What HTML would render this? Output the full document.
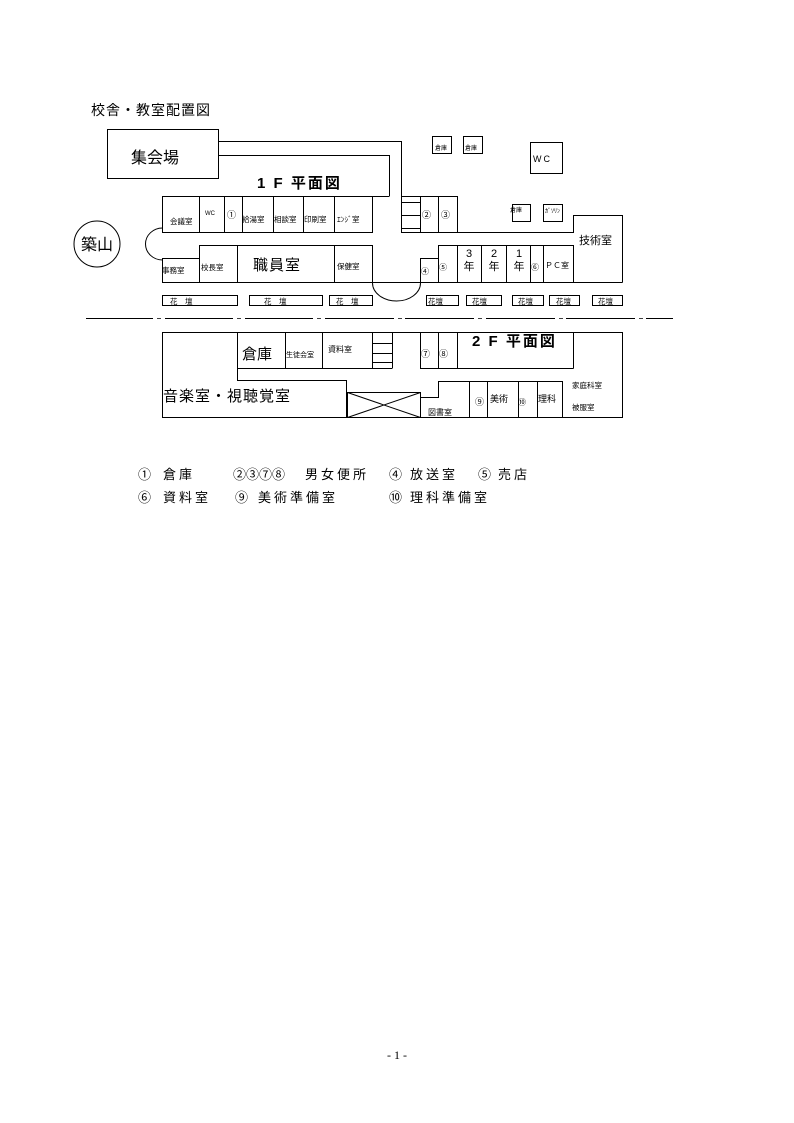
<!DOCTYPE html>
<html><head><meta charset="utf-8"><style>
html,body{margin:0;padding:0;background:#fff;}
svg{display:block;}
text{font-family:"Liberation Sans","Noto Sans CJK JP",sans-serif;fill:#000;}
</style></head><body>
<svg width="794" height="1123" viewBox="0 0 794 1123" xmlns="http://www.w3.org/2000/svg">
<g stroke="#000" stroke-width="1" fill="none">
<rect x="107.5" y="129.5" width="111" height="49"/>
<polyline points="218,141.5 401.5,141.5 401.5,233"/>
<polyline points="218,155.5 389.5,155.5 389.5,196"/>
<line x1="162" y1="196.5" x2="389.5" y2="196.5"/>
<line x1="162.5" y1="196" x2="162.5" y2="233"/>
<line x1="162" y1="232.5" x2="372.5" y2="232.5"/>
<line x1="199.5" y1="196" x2="199.5" y2="233"/>
<line x1="224.5" y1="196" x2="224.5" y2="233"/>
<line x1="242.5" y1="196" x2="242.5" y2="233"/>
<line x1="273.5" y1="196" x2="273.5" y2="233"/>
<line x1="303.5" y1="196" x2="303.5" y2="233"/>
<line x1="334.5" y1="196" x2="334.5" y2="233"/>
<line x1="372.5" y1="196" x2="372.5" y2="233"/>
<polyline points="401.5,196.5 457.5,196.5 457.5,233"/>
<line x1="420.5" y1="196" x2="420.5" y2="233"/>
<line x1="438.5" y1="196" x2="438.5" y2="233"/>
<line x1="401" y1="202.5" x2="420" y2="202.5"/>
<line x1="401" y1="215.5" x2="420" y2="215.5"/>
<line x1="401" y1="228.5" x2="420" y2="228.5"/>
<line x1="401" y1="232.5" x2="573.5" y2="232.5"/>
<polyline points="573.5,233 573.5,215.5 622.5,215.5 622.5,282.5"/>
<path d="M162.5,228 A17,16 0 0 0 162.5,260"/>
<line x1="199" y1="245.5" x2="372.5" y2="245.5"/>
<line x1="199.5" y1="245" x2="199.5" y2="282"/>
<line x1="237.5" y1="245" x2="237.5" y2="282"/>
<line x1="334.5" y1="245" x2="334.5" y2="282"/>
<line x1="372.5" y1="245" x2="372.5" y2="282"/>
<polyline points="162,258.5 199,258.5"/>
<line x1="162.5" y1="258" x2="162.5" y2="282"/>
<line x1="162" y1="282.5" x2="622.5" y2="282.5"/>
<path d="M372.5,283 A24,18 0 0 0 420.5,283"/>
<polyline points="420.5,283 420.5,258.5 438.5,258.5"/>
<line x1="438.5" y1="245.5" x2="573.5" y2="245.5"/>
<line x1="438.5" y1="245" x2="438.5" y2="283"/>
<line x1="457.5" y1="245" x2="457.5" y2="283"/>
<line x1="481.5" y1="245" x2="481.5" y2="283"/>
<line x1="506.5" y1="245" x2="506.5" y2="283"/>
<line x1="530.5" y1="245" x2="530.5" y2="283"/>
<line x1="543.5" y1="245" x2="543.5" y2="283"/>
<line x1="573.5" y1="245" x2="573.5" y2="283"/>
<rect x="432.5" y="136.5" width="19" height="17"/>
<rect x="463.5" y="136.5" width="19" height="17"/>
<rect x="530.5" y="142.5" width="32" height="31"/>
<rect x="512.5" y="204.5" width="18" height="17"/>
<rect x="543.5" y="204.5" width="19" height="17"/>
<circle cx="97" cy="244" r="23"/>
<rect x="162.5" y="295.5" width="75" height="10"/>
<rect x="249.5" y="295.5" width="73" height="10"/>
<rect x="329.5" y="295.5" width="43" height="10"/>
<rect x="426.5" y="295.5" width="32" height="10"/>
<rect x="466.5" y="295.5" width="35" height="10"/>
<rect x="512.5" y="295.5" width="31" height="10"/>
<rect x="549.5" y="295.5" width="30" height="10"/>
<rect x="592.5" y="295.5" width="30" height="10"/>
<path d="M86,318.5H153M165,318.5H233M245,318.5H313M325,318.5H394M405,318.5H474M486,318.5H555M566,318.5H635M646,318.5H673"/>
<path d="M157,318.5H161M237,318.5H241M317,318.5H321M398,318.5H402M478,318.5H482M559,318.5H563M639,318.5H643" stroke-width="0.8"/>
<rect x="162.5" y="332.5" width="460" height="85"/>
<line x1="237.5" y1="332" x2="237.5" y2="380"/>
<line x1="285.5" y1="332" x2="285.5" y2="368"/>
<line x1="322.5" y1="332" x2="322.5" y2="368"/>
<line x1="372.5" y1="332" x2="372.5" y2="368"/>
<line x1="392.5" y1="332" x2="392.5" y2="368"/>
<line x1="372" y1="343.5" x2="392" y2="343.5"/>
<line x1="372" y1="353.5" x2="392" y2="353.5"/>
<line x1="372" y1="362.5" x2="392" y2="362.5"/>
<line x1="237" y1="368.5" x2="392.5" y2="368.5"/>
<line x1="420.5" y1="332" x2="420.5" y2="368"/>
<line x1="438.5" y1="332" x2="438.5" y2="368"/>
<line x1="457.5" y1="332" x2="457.5" y2="368"/>
<line x1="420" y1="368.5" x2="573.5" y2="368.5"/>
<line x1="573.5" y1="332" x2="573.5" y2="368.5"/>
<polyline points="237,380.5 346.5,380.5 346.5,417"/>
<rect x="347.5" y="392.5" width="73" height="25"/>
<line x1="347.5" y1="392.5" x2="420.5" y2="417.5"/>
<line x1="347.5" y1="417.5" x2="420.5" y2="392.5"/>
<polyline points="420.5,417 420.5,397.5 438.5,397.5 438.5,381.5 562.5,381.5"/>
<line x1="469.5" y1="381" x2="469.5" y2="417"/>
<line x1="487.5" y1="381" x2="487.5" y2="417"/>
<line x1="518.5" y1="381" x2="518.5" y2="417"/>
<line x1="537.5" y1="381" x2="537.5" y2="417"/>
<line x1="562.5" y1="381" x2="562.5" y2="417"/>
</g>
<text x="91" y="115" font-size="14" letter-spacing="1">校舎・教室配置図</text>
<text x="131" y="163" font-size="16">集会場</text>
<text x="257" y="188" font-size="15" font-weight="bold" letter-spacing="2">1 F 平面図</text>
<text x="81" y="250" font-size="16">築山</text>
<g font-size="7.5">
<text x="170" y="224">会議室</text>
<text x="205" y="215" font-size="6">WC</text>
<text x="227" y="218" font-size="9">①</text>
<text x="242" y="222">給湯室</text>
<text x="274" y="222">相談室</text>
<text x="304" y="222">印刷室</text>
<text x="337" y="222">ｴﾝｼﾞ室</text>
<text x="162" y="273">事務室</text>
<text x="201" y="270">校長室</text>
<text x="337" y="269">保健室</text>
<text x="435" y="150" font-size="6">倉庫</text>
<text x="465" y="150" font-size="6">倉庫</text>
<text x="510" y="212" font-size="6">倉庫</text>
<text x="545" y="213" font-size="6">ｶﾞｿﾘﾝ</text>
<text x="170" y="304">花　壇</text>
<text x="264" y="304">花　壇</text>
<text x="336" y="304">花　壇</text>
<text x="428" y="304">花壇</text>
<text x="472" y="304">花壇</text>
<text x="518" y="304">花壇</text>
<text x="556" y="304">花壇</text>
<text x="598" y="304">花壇</text>
</g>
<text x="533" y="162" font-size="9" letter-spacing="2">WC</text>
<text x="422" y="218" font-size="9">②</text>
<text x="441" y="218" font-size="9">③</text>
<text x="579" y="244" font-size="11">技術室</text>
<text x="253" y="270" font-size="15" letter-spacing="1">職員室</text>
<text x="421" y="274" font-size="8">④</text>
<text x="439" y="270" font-size="8">⑤</text>
<g font-size="11" text-anchor="middle">
<text x="469" y="257">3</text><text x="469" y="270">年</text>
<text x="494" y="257">2</text><text x="494" y="270">年</text>
<text x="519" y="257">1</text><text x="519" y="270">年</text>
</g>
<text x="531" y="270" font-size="8">⑥</text>
<text x="545" y="268" font-size="8">ＰＣ室</text>
<text x="242" y="359" font-size="15">倉庫</text>
<text x="286" y="357" font-size="7">生徒会室</text>
<text x="328" y="352" font-size="8">資料室</text>
<text x="421" y="357" font-size="9">⑦</text>
<text x="439" y="357" font-size="9">⑧</text>
<text x="472" y="346" font-size="15" font-weight="bold" letter-spacing="2">2 F 平面図</text>
<text x="163" y="401" font-size="15" letter-spacing="1">音楽室・視聴覚室</text>
<text x="428" y="415" font-size="8">図書室</text>
<text x="475" y="405" font-size="9">⑨</text>
<text x="490" y="402" font-size="9">美術</text>
<text x="518" y="405" font-size="8">⑩</text>
<text x="538" y="402" font-size="9">理科</text>
<text x="572" y="388" font-size="7.5">家庭科室</text>
<text x="572" y="410" font-size="7.5">被服室</text>
<g font-size="13" letter-spacing="3">
<text x="138" y="479">①</text><text x="163" y="479">倉庫</text>
<text x="233" y="479" letter-spacing="0">②③⑦⑧</text><text x="305" y="479">男女便所</text>
<text x="389" y="479">④</text><text x="410" y="479">放送室</text>
<text x="478" y="479">⑤</text><text x="498" y="479">売店</text>
<text x="138" y="502">⑥</text><text x="163" y="502">資料室</text>
<text x="235" y="502">⑨</text><text x="258" y="502">美術準備室</text>
<text x="389" y="502">⑩</text><text x="410" y="502">理科準備室</text>
</g>
<text x="397" y="1059" font-size="12" text-anchor="middle" style="font-family:'Liberation Serif',serif">- 1 -</text>
</svg>
</body></html>
